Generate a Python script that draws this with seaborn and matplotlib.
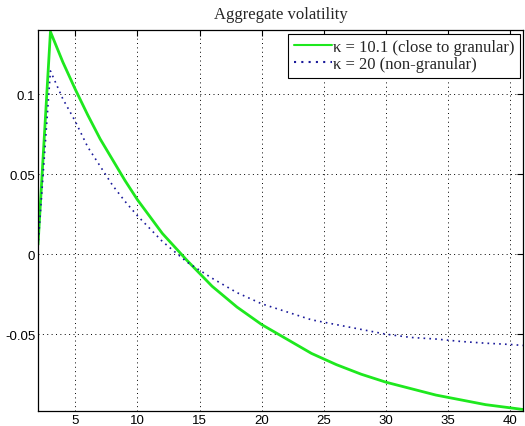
import numpy as np
import pandas as pd
import matplotlib
matplotlib.use("Agg")
import matplotlib.pyplot as plt
import seaborn as sns

# values
x_vals = [2, 3, 4, 5, 6, 7, 8, 9, 10, 12, 14, 16, 18, 20, 22, 24, 26, 28, 30,
          32, 34, 36, 38, 40, 41]
green_vals = [0.006, 0.139, 0.120, 0.103, 0.087, 0.072, 0.059, 0.046, 0.034,
              0.013, -0.004, -0.020, -0.033, -0.044, -0.053, -0.062, -0.069,
              -0.075, -0.080, -0.084, -0.088, -0.091, -0.094, -0.096, -0.097]
blue_vals = [0.005, 0.1145, 0.097, 0.083, 0.067, 0.055, 0.043, 0.033, 0.024,
             0.008, -0.005, -0.015, -0.024, -0.031, -0.036, -0.041, -0.044,
             -0.047, -0.050, -0.052, -0.053, -0.0545, -0.0556, -0.0564, -0.057]
labels = ["\u03ba = 10.1 (close to granular)", "\u03ba = 20 (non-granular)"]
x_ticks = [5, 10, 15, 20, 25, 30, 35, 40]
y_ticks = [-0.05, 0, 0.05, 0.1]
y_ticklabels = ["-0.05", "0", "0.05", "0.1"]

df = pd.DataFrame({"x": x_vals, "green": green_vals, "blue": blue_vals})

sns.set_style("white")
plt.rcParams["font.family"] = ["Liberation Sans", "DejaVu Sans"]

fig = plt.figure(figsize=(5.25, 4.27), dpi=100)
ax = fig.add_axes([0.0724, 0.035, 0.9236, 0.892])

sns.lineplot(data=df, x="x", y="green", ax=ax, color="#1ee81e", lw=2.0,
             label=labels[0])
sns.lineplot(data=df, x="x", y="blue", ax=ax, color="#1a1a9a", lw=1.2,
             linestyle=(0, (1, 2.5)), label=labels[1])

ax.set_xlim(2, 41)
ax.set_ylim(-0.098, 0.14)
ax.set_xticks(x_ticks)
ax.set_xticklabels([str(t) for t in x_ticks])
ax.set_yticks(y_ticks)
ax.set_yticklabels(y_ticklabels)
ax.set_xlabel("")
ax.set_ylabel("")

ax.grid(True, color="black", linestyle=(0, (1, 3.5)), lw=0.7)
ax.tick_params(direction="in", length=4, width=0.8, top=True, right=True,
               labelsize=9.5, colors="black", pad=2)
for s in ax.spines.values():
    s.set_color("black")
    s.set_linewidth(0.9)

ax.set_title("Aggregate volatility", fontsize=12, family="Liberation Serif",
             pad=9)

leg = ax.legend(loc="upper right", prop={"family": "Liberation Serif", "size": 12},
                frameon=True, fancybox=False, framealpha=1, edgecolor="black",
                borderaxespad=0.2, handlelength=2.3, handletextpad=0.05,
                borderpad=0.32, labelspacing=0.08)
leg.get_frame().set_linewidth(0.8)
for h in leg.get_lines():
    h.set_linewidth(1.5)

fig.savefig("out.png", dpi=100)
